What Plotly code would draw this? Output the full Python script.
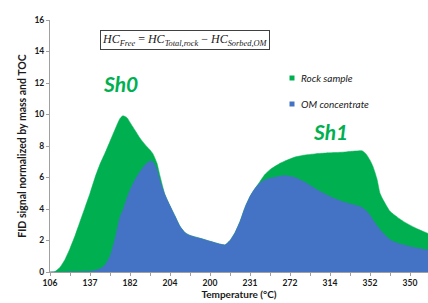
import plotly.graph_objects as go

# sample position along the temperature programme (20 samples per minor tick)
sample = [0, 5, 10, 15, 20, 25, 30, 35, 40, 45, 50, 55, 60, 65, 70, 73, 77, 80, 85, 90,
          95, 100, 103, 107, 110, 115, 120, 125, 130, 135, 140, 150, 160, 170, 175, 180,
          185, 190, 195, 200, 205, 210, 215, 220, 230, 235, 245, 255, 265, 275, 285, 295,
          305, 312, 316, 320, 323, 327, 330, 333, 340, 347, 355, 367, 378]

rock_sample = [0, 0.03, 0.3, 0.8, 1.5, 2.3, 3.2, 4.1, 5.0, 6.0, 6.85, 7.55, 8.3, 9.05, 9.75,
               9.92, 9.8, 9.5, 9.0, 8.5, 8.1, 7.75, 7.5, 6.9, 6.1, 4.9, 4.2, 3.55, 2.9, 2.5,
               2.32, 2.14, 1.95, 1.77, 1.72, 2.0, 2.5, 3.2, 4.1, 4.8, 5.3, 5.75, 6.2, 6.5,
               6.9, 7.05, 7.3, 7.43, 7.5, 7.55, 7.58, 7.62, 7.68, 7.7, 7.5, 7.1, 6.7, 5.9,
               5.0, 4.6, 3.85, 3.5, 3.15, 2.75, 2.45]

om_concentrate = [0, 0, 0, 0, 0.01, 0.01, 0.02, 0.03, 0.05, 0.1, 0.2, 0.45, 1.0, 2.1, 3.5,
                  3.95, 4.7, 5.2, 5.85, 6.37, 6.8, 7.05, 7.0, 6.5, 5.8, 4.9, 4.2, 3.55, 2.9,
                  2.5, 2.32, 2.14, 1.95, 1.77, 1.72, 2.0, 2.5, 3.2, 4.1, 4.8, 5.3, 5.65, 5.85,
                  5.95, 6.08, 6.12, 6.0, 5.7, 5.3, 4.95, 4.65, 4.42, 4.25, 4.1, 3.9, 3.6, 3.3,
                  2.95, 2.7, 2.47, 2.05, 1.84, 1.7, 1.52, 1.4]

tick_positions = [0, 40, 80, 120, 160, 200, 240, 280, 320, 360]
tick_labels = ["106", "137", "182", "204", "200", "231", "272", "314", "352", "350"]

GREEN = "#00B050"
BLUE = "#4472C4"
AXIS = "#A0A0A0"
FONT = "Lato"

fig = go.Figure()
fig.add_trace(go.Scatter(x=sample, y=rock_sample, mode="lines", fill="tozeroy",
                         fillcolor=GREEN, line=dict(color=GREEN, width=0.5, shape="spline", smoothing=0.5),
                         name="Rock sample", showlegend=False, hoverinfo="skip"))
fig.add_trace(go.Scatter(x=sample, y=om_concentrate, mode="lines", fill="tozeroy",
                         fillcolor=BLUE, line=dict(color=BLUE, width=0.5, shape="spline", smoothing=0.5),
                         name="OM concentrate", showlegend=False, hoverinfo="skip"))

def px2paper(px, py):
    return (px - 50) / 378, (272 - py) / 252

annotations = []
shapes = []

# Sh0 / Sh1 labels
for txt, (px, py) in [("Sh0", (120, 83)), ("Sh1", (330, 131))]:
    x, y = px2paper(px, py)
    annotations.append(dict(text="<b><i>" + txt + "</i></b>", x=x, y=y, xref="paper", yref="paper",
                            xanchor="center", yanchor="middle", showarrow=False,
                            font=dict(family=FONT, size=21, color=GREEN)))

# legend
for name, color, py in [("Rock sample", GREEN, 78), ("OM concentrate", BLUE, 104)]:
    x0, y0 = px2paper(289.5, py + 2.5)
    x1, y1 = px2paper(294.5, py - 2.5)
    shapes.append(dict(type="rect", xref="paper", yref="paper", x0=x0, y0=y0, x1=x1, y1=y1,
                       fillcolor=color, line=dict(width=0)))
    tx, ty = px2paper(299, py)
    annotations.append(dict(text="<i>" + name + "</i>", x=tx, y=ty, xref="paper", yref="paper",
                            xanchor="left", yanchor="middle", showarrow=False,
                            font=dict(family=FONT, size=10, color="#1a1a1a")))

# formula box
fx, fy = px2paper(185, 40)
annotations.append(dict(
    text="<i>HC</i><sub><i>Free</i></sub> = <i>HC</i><sub><i>Total,rock</i></sub> − <i>HC</i><sub><i>Sorbed,OM</i></sub>",
    x=fx, y=fy, xref="paper", yref="paper", xanchor="center", yanchor="middle", showarrow=False,
    font=dict(family="Liberation Serif", size=12, color="#1a1a1a"),
    bordercolor="#404040", borderwidth=1, borderpad=1, bgcolor="white"))

fig.update_layout(
    width=428, height=303,
    margin=dict(l=50, r=0, t=20, b=31, autoexpand=False),
    paper_bgcolor="white", plot_bgcolor="white",
    annotations=annotations, shapes=shapes,
    font=dict(family=FONT, color="#1a1a1a"),
)
fig.update_xaxes(
    range=[0, 378], tickmode="array", tickvals=tick_positions, ticktext=tick_labels,
    showgrid=False, zeroline=False, showline=True, linecolor=AXIS, linewidth=1,
    ticks="outside", ticklen=3, tickcolor=AXIS,
    minor=dict(tickmode="linear", tick0=20, dtick=40, ticks="outside", ticklen=3, tickcolor=AXIS),
    tickfont=dict(family=FONT, size=8.5, color="#1a1a1a", weight="bold"),
    title=dict(text="Temperature (°C)", font=dict(family=FONT, size=10, color="#1a1a1a", weight="bold"),
               standoff=3),
)
fig.update_yaxes(
    range=[0, 16], tickmode="linear", tick0=0, dtick=2,
    showgrid=False, zeroline=False, showline=True, linecolor=AXIS, linewidth=1,
    ticks="outside", ticklen=3, tickcolor=AXIS,
    tickfont=dict(family=FONT, size=8.5, color="#1a1a1a", weight="bold"),
    title=dict(text="FID signal normalized by mass and TOC",
               font=dict(family=FONT, size=10.5, color="#1a1a1a", weight="bold"), standoff=5),
)

fig.write_html("out.html", config={"displayModeBar": False},
               post_script="document.body.style.margin='0';")
